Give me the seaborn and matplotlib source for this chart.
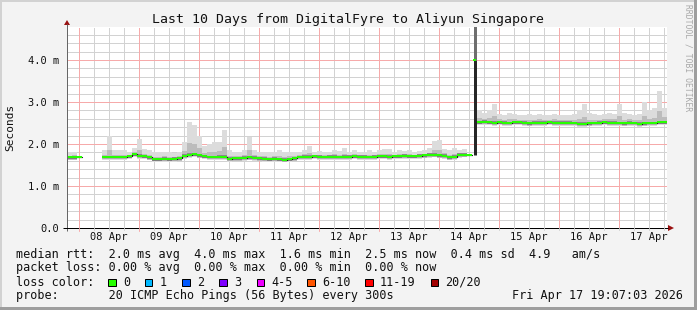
import numpy as np
import matplotlib
matplotlib.use("Agg")
import matplotlib.pyplot as plt
import seaborn as sns
import pandas as pd

# ---------------- data (2-hour bins, Apr 7 19:07 -> Apr 17 19:07) ----------------
nan = np.nan
median_ms = [1.68, 1.68, 1.69,
             nan, nan, nan, nan,
             1.69, 1.69, 1.69, 1.69, 1.69,
             1.71, 1.76, 1.72, 1.71, 1.68,
             1.64, 1.64, 1.65, 1.64, 1.65, 1.66,
             1.72, 1.74, 1.76, 1.73, 1.71,
             1.69, 1.69, 1.70, 1.70,
             1.65, 1.66, 1.66, 1.67, 1.68, 1.67, 1.66, 1.65,
             1.64, 1.65, 1.64, 1.63, 1.64, 1.66,
             1.69, 1.70, 1.70, 1.71, 1.70, 1.69, 1.70, 1.70,
             1.69, 1.70, 1.70, 1.71, 1.70, 1.70, 1.69, 1.70,
             1.71, 1.71, 1.70, 1.71, 1.71, 1.72, 1.71, 1.71,
             1.72, 1.73, 1.74, 1.75, 1.73, 1.72, 1.68, 1.70,
             1.74, 1.75, 1.74, 4.00,
             2.52, 2.53, 2.52, 2.51, 2.52, 2.51, 2.50, 2.52,
             2.52, 2.51, 2.49, 2.51, 2.51, 2.51, 2.52, 2.51,
             2.51, 2.51, 2.51, 2.50, 2.48, 2.48, 2.49, 2.50,
             2.51, 2.52, 2.51, 2.51, 2.50, 2.49, 2.51, 2.50,
             2.48, 2.49, 2.50, 2.50, 2.52, 2.52]
max_ms = [1.80, 1.82, 1.88,
          nan, nan, nan, nan,
          1.85, 2.19, 1.85, 1.85, 1.85,
          1.82, 1.90, 2.12, 1.88, 1.85,
          1.80, 1.80, 1.82, 1.80, 1.78, 1.82,
          2.05, 2.52, 2.45, 2.20, 1.95,
          2.00, 2.05, 2.05, 2.33,
          1.85, 1.80, 1.82, 1.85, 2.17, 1.85, 1.82, 1.82,
          1.80, 1.82, 1.85, 1.80, 1.82, 1.80,
          1.82, 1.85, 1.95, 1.82, 1.83, 1.82, 1.80, 1.85,
          1.83, 1.90, 1.82, 1.85, 1.80, 1.82, 1.85, 1.82,
          1.85, 1.88, 1.88, 1.82, 1.85, 1.83, 1.85, 1.82,
          1.84, 1.85, 1.90, 2.08, 2.10, 1.88, 1.85, 1.90,
          1.85, 1.88, 2.45, 4.90,
          2.80, 2.75, 2.80, 2.95, 2.72, 2.70, 2.75, 2.72,
          2.70, 2.70, 2.72, 2.70, 2.72, 2.68, 2.70, 2.72,
          2.70, 2.68, 2.70, 2.72, 2.80, 2.95, 2.75, 2.72,
          2.70, 2.72, 2.75, 2.72, 2.95, 2.75, 2.72, 2.70,
          2.72, 3.00, 2.80, 2.85, 3.26, 2.85]
spike_base_ms = 1.74          # median just before the jump
bin_hours = 2
span_hours = 240
first_midnight_h = 4.883      # Apr 8 00:00 relative to start
day_labels = ["08 Apr", "09 Apr", "10 Apr", "11 Apr", "12 Apr",
              "13 Apr", "14 Apr", "15 Apr", "16 Apr", "17 Apr"]
y_ticks = [0, 1, 2, 3, 4]
y_tick_labels = ["0.0", "1.0 m", "2.0 m", "3.0 m", "4.0 m"]

title = "Last 10 Days from DigitalFyre to Aliyun Singapore"
legend_rtt = "median rtt:  2.0 ms avg  4.0 ms max  1.6 ms min  2.5 ms now  0.4 ms sd  4.9   am/s"
legend_loss = "packet loss: 0.00 % avg  0.00 % max  0.00 % min  0.00 % now"
loss_names = ["0", "1", "2", "3", "4-5", "6-10", "11-19", "20/20"]
loss_colors = ["#26ff00", "#00b8ff", "#0059ff", "#7e00ff", "#ee00ff", "#ff5500", "#ff0000", "#a10000"]
probe_text = "probe:       20 ICMP Echo Pings (56 Bytes) every 300s"
date_text = "Fri Apr 17 19:07:03 2026"

# ---------------- figure ----------------
W, H, DPI = 697, 310, 100
sns.set_style("white")
plt.rcParams["font.family"] = ["DejaVu Sans Mono", "DejaVu Sans"]

BG = "#f3f3f3"
fig = plt.figure(figsize=(W / DPI, H / DPI), dpi=DPI, facecolor=BG)

PX_L, PX_R, PX_T, PX_B = 67, 667, 27, 228
PX_PER_MS = 42.0
ax = fig.add_axes([PX_L / W, (H - PX_B) / H, (PX_R - PX_L) / W, (PX_B - PX_T) / H])
ax.set_facecolor("white")
ymax = (PX_B - PX_T) / PX_PER_MS
ax.set_xlim(0, span_hours)
ax.set_ylim(0, ymax)
for s in ax.spines.values():
    s.set_visible(False)

px = 72.0 / DPI  # one pixel in points

# grid (1px dotted)
minor_col, major_col = "#d2d2d2", "#f6aaaa"
dots = (0, (1, 1))
t = first_midnight_h
while t < span_hours:
    ax.axvline(t, color=minor_col, lw=px, ls=dots, zorder=0, antialiased=False)
    t += 6
t = first_midnight_h
while t < span_hours:
    ax.axvline(t, color=major_col, lw=px, ls=dots, zorder=0.5, antialiased=False)
    t += 24
for k in range(1, int(ymax / 0.2) + 1):
    v = k * 0.2
    if abs(v - round(v)) < 1e-6:
        ax.axhline(v, color=major_col, lw=px, ls=dots, zorder=0.5, antialiased=False)
    else:
        ax.axhline(v, color=minor_col, lw=px, ls=dots, zorder=0, antialiased=False)

# data frame
n = len(median_ms)
df = pd.DataFrame({
    "t0": np.arange(n) * bin_hours,
    "med": median_ms,
    "hi": max_ms,
})
df["t1"] = df["t0"] + bin_hours
spike = int(np.nanargmax(df["med"].values))
smoke = df.copy()
smoke.loc[spike, ["med", "hi"]] = nan

def step_xy(x0, y, last_x):
    x = np.append(x0, last_x)
    yy = np.append(y, y[-1])
    return x, yy

xs, med_s = step_xy(smoke["t0"].values, smoke["med"].values, span_hours)
_, hi_s = step_xy(smoke["t0"].values, smoke["hi"].values, span_hours)
lo_s = med_s - 0.07
mid_s = med_s + 0.35 * (hi_s - med_s)
ax.fill_between(xs, lo_s, hi_s, step="post", color="#dcdcdc", lw=0, zorder=1)
ax.fill_between(xs, med_s - 0.055, mid_s, step="post", color="#bcbcbc", lw=0, zorder=1.1)
ax.fill_between(xs, med_s - 0.035, med_s + 0.035, step="post", color="#8a8a8a", lw=0, zorder=1.2)

# dark step median line per contiguous run (seaborn)
valid = ~smoke["med"].isna().values
runs, start = [], None
for i in range(n):
    if valid[i] and start is None:
        start = i
    if (not valid[i]) and start is not None:
        runs.append((start, i)); start = None
if start is not None:
    runs.append((start, n))
for a, b in runs:
    seg = smoke.iloc[a:b]
    x = np.append(seg["t0"].values, seg["t1"].values[-1])
    y = np.append(seg["med"].values, seg["med"].values[-1])
    sns.lineplot(x=x, y=y, drawstyle="steps-post", color="#1a1a1a", lw=1.2 * px,
                 estimator=None, sort=False, errorbar=None, ax=ax, zorder=2)

# green median segments
ok = smoke.dropna(subset=["med"])
ax.hlines(ok["med"], ok["t0"], ok["t1"], color=loss_colors[0], lw=2 * px, zorder=3)

# spike
tc = df.loc[spike, "t0"] + bin_hours / 2
ax.vlines(tc, spike_base_ms, df.loc[spike, "med"], color="#262626", lw=3 * px, zorder=3)
ax.vlines(tc, df.loc[spike, "med"], df.loc[spike, "hi"], color="#6e6e6e", lw=3 * px, zorder=3)
ax.hlines(df.loc[spike, "med"], tc - 0.6, tc + 0.6, color=loss_colors[0], lw=2 * px, zorder=4)

# ticks
tick_pos = [first_midnight_h + 12 + 24 * k for k in range(len(day_labels))]
ax.set_xticks(tick_pos, day_labels)
ax.set_yticks(y_ticks, y_tick_labels)
ax.tick_params(axis="x", length=0, pad=4 * px, labelsize=7.5, colors="#111111")
ax.tick_params(axis="y", length=0, pad=8 * px, labelsize=7.5, colors="#111111")

# ---------------- overlay in pixel coordinates ----------------
ov = fig.add_axes([0, 0, 1, 1], zorder=5)
ov.set_xlim(0, W)
ov.set_ylim(H, 0)
ov.axis("off")
ov.patch.set_alpha(0)

# axes lines & arrows
arrow_col = "#9a1010"
ov.plot([PX_L, PX_L], [PX_B + 3, PX_T - 3], color="#666666", lw=px, solid_capstyle="butt")
ov.plot([PX_L - 4, PX_R + 1], [PX_B, PX_B], color="#000000", lw=px, solid_capstyle="butt")
ov.fill([PX_L - 3, PX_L + 3, PX_L], [PX_T - 2, PX_T - 2, PX_T - 7], color=arrow_col, lw=0)
ov.fill([PX_R + 1, PX_R + 1, PX_R + 7], [PX_B - 3, PX_B + 3, PX_B], color=arrow_col, lw=0)
# small axis ticks below x axis
t = first_midnight_h
while t < span_hours:
    xpx = PX_L + t * 2.5
    major = abs(((t - first_midnight_h) % 24)) < 1e-6
    ov.plot([xpx, xpx], [PX_B, PX_B + (3 if major else 2)],
            color=(major_col if major else minor_col), lw=px)
    t += 6

# border
ov.add_patch(plt.Rectangle((0, 0), W, 2, color="#d2d2d2", lw=0))
ov.add_patch(plt.Rectangle((0, 0), 2, H, color="#d2d2d2", lw=0))
ov.add_patch(plt.Rectangle((0, H - 3), W, 3, color="#9e9e9e", lw=0))
ov.add_patch(plt.Rectangle((W - 3, 0), 3, H, color="#9e9e9e", lw=0))

# texts
ov.text(348, 19, title, ha="center", va="center", fontsize=9.5, color="#111111")
ov.text(10, 127, "Seconds", rotation=90, ha="center", va="center", fontsize=8, color="#111111")
ov.text(688, 4, "RRDTOOL / TOBI OETIKER", rotation=270, ha="center", va="top",
        fontsize=5.8, color="#a8a8a8")

LX = 16
ov.text(LX, 254.5, legend_rtt, ha="left", va="center", fontsize=8.5, color="#111111")
ov.text(LX, 268, legend_loss, ha="left", va="center", fontsize=8.5, color="#111111")
ov.text(LX, 282, "loss color:", ha="left", va="center", fontsize=8.5, color="#111111")
box_x = [108.3, 145.0, 182.3, 219.3, 256.7, 307.3, 365.3, 430.7]
for bx, name, col in zip(box_x, loss_names, loss_colors):
    ov.add_patch(plt.Rectangle((bx, 278.5), 7.3, 7.3, facecolor=col, edgecolor="#000000", lw=px))
    ov.text(bx + 14.5, 282, name, ha="left", va="center", fontsize=8.5, color="#111111")
ov.text(LX, 295.5, probe_text, ha="left", va="center", fontsize=8.5, color="#111111")
ov.text(683, 295.5, date_text, ha="right", va="center", fontsize=8.5, color="#111111")

fig.savefig("out.png", dpi=DPI, facecolor=BG)
